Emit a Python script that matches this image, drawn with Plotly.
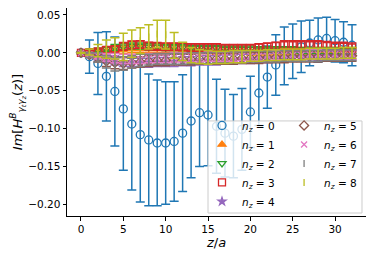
import plotly.graph_objects as go

z = list(range(33))

y0 = [0, -0.005, -0.014, -0.031, -0.051, -0.074, -0.094, -0.108, -0.115, -0.119, -0.119, -0.117, -0.106, -0.090, -0.079, -0.082,
      -0.097, -0.106, -0.110, -0.101, -0.078, -0.053, -0.032, -0.016, -0.004, 0.002, 0.008, 0.013, 0.017, 0.019, 0.016, 0.014, 0.010]
e0 = [0.001, 0.022, 0.041, 0.059, 0.072, 0.081, 0.087, 0.089, 0.087, 0.083, 0.081, 0.079, 0.077, 0.075, 0.071, 0.067,
      0.062, 0.058, 0.055, 0.054, 0.047, 0.043, 0.041, 0.040, 0.038, 0.036, 0.034, 0.030, 0.029, 0.028, 0.028, 0.027, 0.027]

y1 = [0, 0.001, 0.002, 0.003, 0.004, 0.004, 0.005, 0.005, 0.005, 0.005, 0.005, 0.005, 0.004, 0.004, 0.004, 0.004,
      0.003, 0.003, 0.003, 0.003, 0.002, 0.002, 0.002, 0.002, 0.002, 0.002, 0.002, 0.002, 0.002, 0.002, 0.002, 0.001, 0.001]
e1 = [0.0005, 0.002, 0.003, 0.004, 0.004, 0.005, 0.005, 0.005, 0.005, 0.005, 0.005, 0.005, 0.005, 0.005, 0.005, 0.005,
      0.005, 0.005, 0.005, 0.005, 0.005, 0.005, 0.005, 0.005, 0.005, 0.005, 0.005, 0.005, 0.005, 0.005, 0.005, 0.005, 0.005]

y2 = [0, 0.001, 0.003, 0.005, 0.007, 0.008, 0.009, 0.009, 0.008, 0.008, 0.007, 0.007, 0.007, 0.006, 0.006, 0.006,
      0.006, 0.005, 0.005, 0.005, 0.005, 0.004, 0.004, 0.004, 0.004, 0.004, 0.003, 0.003, 0.003, 0.003, 0.003, 0.003, 0.003]
e2 = [0.0005, 0.002, 0.003, 0.003, 0.004, 0.004, 0.004, 0.004, 0.004, 0.004, 0.004, 0.004, 0.004, 0.004, 0.004, 0.004,
      0.004, 0.004, 0.004, 0.004, 0.004, 0.004, 0.004, 0.004, 0.004, 0.004, 0.004, 0.004, 0.004, 0.004, 0.004, 0.004, 0.004]

y3 = [0, 0.001, 0.002, 0.004, 0.005, 0.0085, 0.0105, 0.011, 0.009, 0.0085, 0.008, 0.008, 0.008, 0.007, 0.007, 0.007,
      0.007, 0.006, 0.006, 0.006, 0.006, 0.007, 0.008, 0.009, 0.010, 0.010, 0.010, 0.010, 0.010, 0.009, 0.008, 0.008, 0.007]
e3 = [0.0005, 0.002, 0.003, 0.004, 0.004, 0.005, 0.005, 0.005, 0.005, 0.005, 0.005, 0.005, 0.005, 0.005, 0.005, 0.005,
      0.005, 0.005, 0.005, 0.005, 0.005, 0.005, 0.005, 0.005, 0.006, 0.006, 0.006, 0.006, 0.006, 0.006, 0.006, 0.006, 0.006]

y4 = [0, -0.002, -0.005, -0.008, -0.010, -0.012, -0.012, -0.013, -0.013, -0.012, -0.012, -0.012, -0.011, -0.011, -0.010, -0.010,
      -0.010, -0.009, -0.009, -0.008, -0.008, -0.007, -0.007, -0.006, -0.006, -0.005, -0.005, -0.005, -0.004, -0.004, -0.004, -0.003, -0.003]
e4 = [0.0005, 0.002, 0.004, 0.005, 0.006, 0.006, 0.006, 0.006, 0.006, 0.006, 0.006, 0.006, 0.006, 0.006, 0.006, 0.006,
      0.006, 0.006, 0.006, 0.006, 0.006, 0.006, 0.006, 0.006, 0.006, 0.006, 0.006, 0.006, 0.006, 0.006, 0.006, 0.006, 0.006]

y5 = [0, -0.003, -0.007, -0.011, -0.013, -0.014, -0.013, -0.012, -0.011, -0.010, -0.010, -0.009, -0.009, -0.009, -0.008, -0.008,
      -0.008, -0.008, -0.008, -0.007, -0.007, -0.007, -0.006, -0.006, -0.006, -0.005, -0.005, -0.005, -0.005, -0.004, -0.004, -0.004, -0.004]
e5 = [0.0005, 0.003, 0.005, 0.007, 0.008, 0.008, 0.007, 0.007, 0.007, 0.007, 0.007, 0.007, 0.007, 0.007, 0.007, 0.007,
      0.007, 0.007, 0.007, 0.007, 0.007, 0.007, 0.007, 0.007, 0.007, 0.007, 0.007, 0.007, 0.007, 0.007, 0.007, 0.007, 0.007]

y6 = [0, -0.002, -0.004, -0.006, -0.007, -0.008, -0.008, -0.008, -0.007, -0.007, -0.007, -0.006, -0.006, -0.006, -0.006, -0.005,
      -0.005, -0.005, -0.005, -0.004, -0.004, -0.004, -0.004, -0.003, -0.003, -0.003, -0.003, -0.002, -0.002, -0.002, -0.002, -0.002, -0.002]
e6 = [0.0005, 0.002, 0.004, 0.005, 0.006, 0.006, 0.006, 0.006, 0.006, 0.006, 0.006, 0.006, 0.006, 0.006, 0.006, 0.006,
      0.006, 0.006, 0.006, 0.006, 0.006, 0.006, 0.006, 0.006, 0.006, 0.006, 0.006, 0.006, 0.006, 0.006, 0.006, 0.006, 0.006]

y7 = [0, -0.003, -0.006, -0.012, -0.015, -0.014, -0.012, -0.010, -0.009, -0.008, -0.008, -0.008, -0.008, -0.007, -0.007, -0.007,
      -0.006, -0.006, -0.006, -0.006, -0.005, -0.005, -0.005, -0.005, -0.004, -0.004, -0.004, -0.004, -0.004, -0.003, -0.003, -0.003, -0.003]
e7 = [0.0005, 0.003, 0.006, 0.008, 0.009, 0.009, 0.008, 0.008, 0.007, 0.007, 0.007, 0.007, 0.007, 0.007, 0.007, 0.007,
      0.007, 0.007, 0.007, 0.007, 0.007, 0.007, 0.007, 0.007, 0.007, 0.007, 0.007, 0.007, 0.007, 0.007, 0.007, 0.007, 0.007]

y8 = [0, 0.001, 0.003, 0.005, 0.006, 0.008, 0.012, 0.016, 0.021, 0.025, 0.024, 0.010, 0.002, -0.003, -0.005, -0.006,
      -0.006, -0.006, -0.005, -0.005, -0.004, -0.004, -0.003, -0.003, -0.002, -0.002, -0.002, -0.001, -0.001, -0.001, -0.001, 0.000, 0.000]
e8 = [0.0005, 0.004, 0.008, 0.012, 0.014, 0.018, 0.018, 0.017, 0.016, 0.018, 0.019, 0.017, 0.012, 0.010, 0.009, 0.009,
      0.008, 0.008, 0.008, 0.008, 0.007, 0.007, 0.007, 0.007, 0.007, 0.007, 0.007, 0.007, 0.007, 0.007, 0.007, 0.007, 0.007]

series_y = [y0, y1, y2, y3, y4, y5, y6, y7, y8]
series_e = [e0, e1, e2, e3, e4, e5, e6, e7, e8]
labels = ["<i>n</i><sub><i>z</i></sub> = %d" % i for i in range(9)]

colors = ["#1f77b4", "#ff7f0e", "#2ca02c", "#d62728", "#9467bd",
          "#8c564b", "#e377c2", "#7f7f7f", "#bcbd22"]
symbols = ["circle-open", "triangle-up", "triangle-down-open", "square-open", "star",
           "diamond-open", "x-thin-open", "line-ns-open", "line-ns-open"]
sizes = [8, 7, 7, 7, 6, 7, 6, 5, 5]

fig = go.Figure()
for i in range(9):
    fig.add_trace(go.Scatter(
        x=z, y=series_y[i], mode="markers", name=labels[i],
        marker=dict(symbol=symbols[i], size=sizes[i], color=colors[i],
                    line=dict(width=1.3, color=colors[i])),
        error_y=dict(type="data", array=series_e[i], color=colors[i],
                     thickness=1.5, width=4.5),
        legend="legend" if i < 5 else "legend2",
    ))

# page body adds an 8px offset; figure is sized to fit the 374x256 window
font = dict(family="DejaVu Sans", size=10.5, color="black")
leg_common = dict(yanchor="top", xanchor="left", bgcolor="rgba(0,0,0,0)",
                  borderwidth=0, font=dict(size=10.5), itemwidth=30, tracegroupgap=0)
fig.update_layout(
    width=366, height=248,
    margin=dict(l=59, r=8, t=0, b=40, autoexpand=False),
    paper_bgcolor="white", plot_bgcolor="white",
    font=font,
    showlegend=True,
    xaxis=dict(range=[-1.65, 33.65], tickvals=[0, 5, 10, 15, 20, 25, 30],
               showline=True, linecolor="black", linewidth=1, mirror=True,
               ticks="outside", ticklen=3.5, tickcolor="black", showgrid=False, zeroline=False,
               title=dict(text="<i>z</i>/<i>a</i>", standoff=2)),
    yaxis=dict(range=[-0.2154, 0.0592], tickvals=[-0.2, -0.15, -0.1, -0.05, 0, 0.05], tickformat=".2f",
               showline=True, linecolor="black", linewidth=1, mirror=True,
               ticks="outside", ticklen=3.5, tickcolor="black", showgrid=False, zeroline=False,
               title=dict(text="<i>Im</i>[<i>H</i><sup><i>B</i></sup><sub><i>γ<sub>t</sub>γ<sub>z</sub></i></sub>(<i>z</i>)]", standoff=0)),
    legend=dict(x=0.4515, y=0.505, **leg_common),
    legend2=dict(x=0.726, y=0.505, **leg_common),
    shapes=[dict(type="rect", xref="paper", yref="paper", x0=0.4716, x1=0.9866, y0=0.0144, y1=0.457,
                 fillcolor="rgba(255,255,255,0.8)", line=dict(color="#cccccc", width=1), layer="above")],
)

fig.write_html("out.html")
